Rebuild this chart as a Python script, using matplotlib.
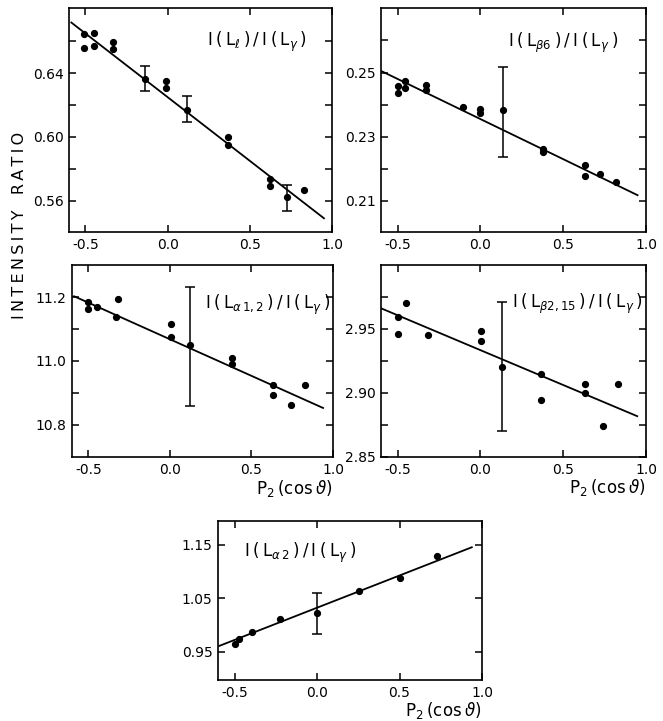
import matplotlib
matplotlib.use("Agg")
import matplotlib.pyplot as plt
import numpy as np

# P2(cos theta) values and measured ratios for each panel
p1_x = [-0.51, -0.51, -0.45, -0.45, -0.335, -0.335, -0.135, -0.01, -0.01, 0.115, 0.37, 0.37, 0.62, 0.62, 0.725, 0.83]
p1_y = [0.6646, 0.6556, 0.6656, 0.6569, 0.6594, 0.655, 0.6363, 0.635, 0.6308, 0.6167, 0.600, 0.5952, 0.5733, 0.5692, 0.5625, 0.5665]
p1_ex = [-0.135, 0.115, 0.725]
p1_ey = [0.6366, 0.6175, 0.5615]
p1_err = [0.0078, 0.0083, 0.0083]
p1_fit = (0.625, -0.080, -0.586, 0.951)   # intercept, slope, x from, x to

p2_x = [-0.5, -0.5, -0.453, -0.453, -0.326, -0.326, -0.103, 0.0, 0.0, 0.134, 0.381, 0.381, 0.629, 0.632, 0.72, 0.816]
p2_y = [0.2458, 0.2437, 0.2475, 0.2452, 0.2460, 0.2445, 0.2392, 0.2385, 0.2373, 0.2382, 0.2263, 0.2252, 0.2211, 0.2177, 0.2183, 0.2158]
p2_ex = [0.134]
p2_ey = [0.2377]
p2_err = [0.01415]
p2_fit = (0.2355, -0.025, -0.595, 0.949)

p3_x = [-0.5, -0.5, -0.449, -0.333, -0.317, 0.004, 0.004, 0.124, 0.378, 0.378, 0.634, 0.634, 0.740, 0.831]
p3_y = [11.183, 11.161, 11.169, 11.138, 11.195, 11.116, 11.076, 11.049, 11.010, 10.992, 10.926, 10.894, 10.863, 10.924]
p3_ex = [0.124]
p3_ey = [11.0445]
p3_err = [0.1865]
p3_fit = (11.068, -0.2287, -0.587, 0.939)

p4_x = [-0.5, -0.5, -0.451, -0.318, 0.006, 0.006, 0.128, 0.364, 0.364, 0.632, 0.632, 0.739, 0.830]
p4_y = [2.9595, 2.9463, 2.9705, 2.9453, 2.9482, 2.9403, 2.9205, 2.9147, 2.8942, 2.9068, 2.900, 2.8745, 2.9068]
p4_ex = [0.128]
p4_ey = [2.9205]
p4_err = [0.0505]
p4_fit = (2.9335, -0.0545, -0.597, 0.947)

p5_x = [-0.5, -0.47, -0.395, -0.227, -0.001, 0.252, 0.5, 0.730]
p5_y = [0.965, 0.9744, 0.9869, 1.0106, 1.0219, 1.0638, 1.0881, 1.1288]
p5_ex = [-0.001]
p5_ey = [1.0213]
p5_err = [0.0375]
p5_fit = (1.032, 0.1204, -0.593, 0.938)

x_ticks = [-0.5, 0.0, 0.5, 1.0]
x_ticklabels = ["-0.5", "0.0", "0.5", "1.0"]

plt.rcParams['font.family'] = ['DejaVu Sans']
plt.rcParams['mathtext.fontset'] = 'dejavusans'

W, H = 663, 721
fig = plt.figure(figsize=(W / 100, H / 100), dpi=100)
ts = "\u2009"  # thin space, the original lettering is widely spaced


def ratio_label(num_sub):
    return ts.join(["I", "(", "L$_{" + num_sub + "}$", ")", "/", "I", "(", "L$_\\gamma$", ")"])


def make_ax(left, top, right, bottom):
    return fig.add_axes([left / W, 1 - bottom / H, (right - left) / W, (bottom - top) / H])


def panel(ax, xs, ys, ex, ey, err, fit, ylim, yticks, ylabels, yminor, label, lpos, xlab_y=None):
    b, m, x0, x1 = fit
    xx = np.array([x0, x1])
    ax.plot(xx, b + m * xx, color="black", lw=1.3)
    ax.plot(xs, ys, "o", color="black", ms=4.2)
    ax.errorbar(ex, ey, yerr=err, fmt="none", ecolor="black", elinewidth=1.1, capsize=3.5, capthick=1.1)
    ax.set_xlim(-0.6, 1.0)
    ax.set_ylim(*ylim)
    ax.set_xticks(x_ticks)
    ax.set_xticklabels(x_ticklabels)
    ax.set_yticks(yticks)
    ax.set_yticklabels(ylabels)
    ax.set_yticks(yminor, minor=True)
    ax.tick_params(which="both", direction="in", top=True, right=True, length=5, width=1.1, labelsize=10, pad=4)
    for s in ax.spines.values():
        s.set_linewidth(1.2)
    ax.text(lpos[0], lpos[1], label, transform=ax.transAxes, fontsize=12, ha="left", va="center")
    if xlab_y is not None:
        ax.text(1.0, xlab_y, "P$_2$" + ts + "(cos" + ts + "$\\vartheta$)", transform=ax.transAxes,
                fontsize=12, ha="right", va="center")


ax1 = make_ax(69, 8, 332, 232)
panel(ax1, p1_x, p1_y, p1_ex, p1_ey, p1_err, p1_fit, (0.5403, 0.681),
      [0.56, 0.60, 0.64], ["0.56", "0.60", "0.64"], [0.58, 0.62, 0.66],
      ratio_label("\\ell"), (0.525, 0.85))

ax2 = make_ax(381, 8, 646, 232)
panel(ax2, p2_x, p2_y, p2_ex, p2_ey, p2_err, p2_fit, (0.2003, 0.2701),
      [0.21, 0.23, 0.25], ["0.21", "0.23", "0.25"], [0.22, 0.24, 0.26],
      ratio_label("\\beta6"), (0.48, 0.845))

ax3 = make_ax(72, 265, 333, 457)
panel(ax3, p3_x, p3_y, p3_ex, p3_ey, p3_err, p3_fit, (10.70, 11.30),
      [10.8, 11.0, 11.2], ["10.8", "11.0", "11.2"], [10.9, 11.1],
      ratio_label("\\alpha\\,1,2"), (0.51, 0.79), xlab_y=-0.165)

ax4 = make_ax(381, 265, 646, 457)
panel(ax4, p4_x, p4_y, p4_ex, p4_ey, p4_err, p4_fit, (2.85, 3.00),
      [2.85, 2.90, 2.95], ["2.85", "2.90", "2.95"], [2.875, 2.925, 2.975],
      ratio_label("\\beta2,15"), (0.495, 0.80), xlab_y=-0.16)

ax5 = make_ax(218, 521, 482, 680)
panel(ax5, p5_x, p5_y, p5_ex, p5_ey, p5_err, p5_fit, (0.897, 1.194),
      [0.95, 1.05, 1.15], ["0.95", "1.05", "1.15"], [],
      ratio_label("\\alpha\\,2"), (0.1, 0.80), xlab_y=-0.19)

fig.text(20 / W, 1 - 225 / H, ts.join("INTENSITY") + "   " + ts.join("RATIO"), rotation=90,
         fontsize=11.5, ha="center", va="center")

fig.savefig("out.png", dpi=100)
